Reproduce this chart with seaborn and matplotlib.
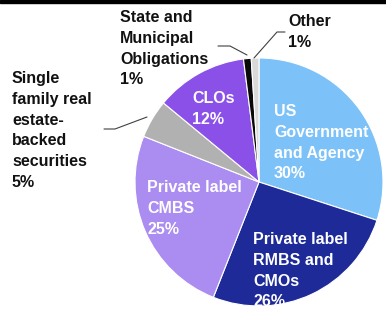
import matplotlib
matplotlib.use("Agg")
import matplotlib.pyplot as plt
import seaborn as sns
from matplotlib.patches import Rectangle

sns.set_theme(style="white")
plt.rcParams['font.family'] = ['Liberation Sans', 'DejaVu Sans']

categories = ["US Government and Agency", "Private label RMBS and CMOs",
              "Private label CMBS", "Single family real estate-backed securities",
              "CLOs", "State and Municipal Obligations", "Other"]
values = [30, 26, 25, 5, 12, 1, 1]
colors = ["#7CC2F8", "#1D2A98", "#AB8CF0", "#B1B1B1", "#8A50E8", "#0A0A0A", "#D9D9D9"]

W, H = 386, 313
fig = plt.figure(figsize=(W / 100, H / 100), dpi=100)
ax = fig.add_axes([0, 0, 1, 1])

def py(y):
    return H - y

cx, cy, r = 259, 182, 124
ax.pie(values, colors=colors, startangle=90, counterclock=False,
       center=(cx, py(cy)), radius=r, frame=True,
       wedgeprops=dict(edgecolor="white", linewidth=0.8))
ax.set_xlim(0, W)
ax.set_ylim(0, H)
ax.set_aspect("auto")
ax.set_axis_off()

# top black bar
ax.add_patch(Rectangle((0, py(3)), W, 3, color="black", zorder=5, clip_on=False))

fs = 11.5
ls = 1.48
kw = dict(fontsize=fs, fontweight="bold", linespacing=ls, va="top", ha="left")

# outside labels
ax.text(12, py(71), "Single\nfamily real\nestate-\nbacked\nsecurities\n5%", color="#111111", **kw)
ax.text(120, py(10), "State and\nMunicipal\nObligations\n1%", color="#111111", **kw)
ax.text(288, py(14), "Other\n1%", color="#111111", **kw)

# inside labels
ax.text(192, py(91), "CLOs\n12%", color="white", **kw)
ax.text(274, py(104), "US\nGovernment\nand Agency\n30%", color="white", **kw)
ax.text(147, py(180), "Private label\nCMBS\n25%", color="white", **kw)
ax.text(253, py(232), "Private label\nRMBS and\nCMOs\n26%", color="white", **kw)

# leader lines
lc = "#404040"
ax.plot([104, 115, 147], [py(129), py(129), py(117)], color=lc, lw=0.8)
ax.plot([218, 230, 247], [py(46), py(46), py(55)], color=lc, lw=0.8)
ax.plot([285, 277, 254], [py(32), py(32), py(58)], color=lc, lw=0.8)

fig.savefig("out.png", dpi=100)
